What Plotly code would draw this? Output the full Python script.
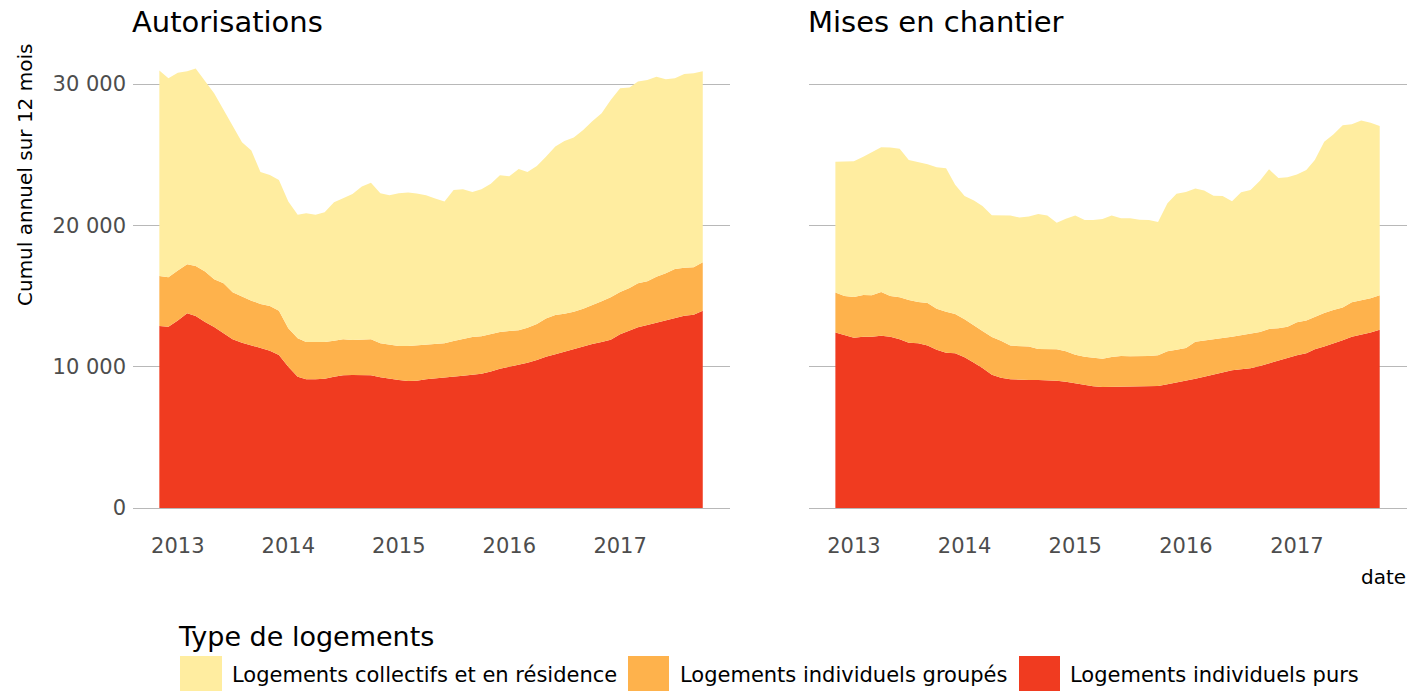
import pandas as pd
import plotly.graph_objects as go

# ---------------- data ----------------
start_month = "2012-11-01"
n_months = 60
dates = pd.date_range(start_month, periods=n_months, freq="MS")

series_names = [
    "Logements individuels purs",
    "Logements individuels groupés",
    "Logements collectifs et en résidence",
]
colors = {
    "Logements collectifs et en résidence": "#FFEDA0",
    "Logements individuels groupés": "#FEB24C",
    "Logements individuels purs": "#F03B20",
}

# Autorisations
aut_purs = [12880, 12830, 13260, 13780, 13590, 13160, 12810, 12360, 11940, 11700,
            11490, 11300, 11130, 10830, 10000, 9290, 9110, 9110, 9150, 9290,
            9390, 9410, 9410, 9390, 9250, 9130, 9060, 8990, 9010, 9110,
            9180, 9270, 9290, 9360, 9430, 9500, 9650, 9860, 10000, 10120,
            10280, 10470, 10710, 10880, 11060, 11230, 11440, 11610, 11750, 11910,
            12290, 12550, 12790, 12950, 13110, 13300, 13420, 13610, 13680, 13960]
aut_groupes = [3540, 3500, 3540, 3470, 3540, 3570, 3370, 3540, 3330, 3260,
               3180, 3140, 3170, 3130, 2720, 2720, 2640, 2640, 2600, 2550,
               2550, 2480, 2490, 2550, 2400, 2410, 2400, 2470, 2500, 2430,
               2450, 2380, 2530, 2620, 2670, 2650, 2640, 2600, 2530, 2450,
               2480, 2550, 2690, 2780, 2690, 2660, 2660, 2730, 2880, 3000,
               3000, 3020, 3110, 3090, 3260, 3310, 3490, 3390, 3350, 3430]
aut_collectifs = [14530, 14070, 14000, 13650, 13970, 13470, 13170, 12270, 11760, 10920,
                  10620, 9340, 9270, 9250, 8960, 8730, 9110, 8990, 9180, 9790,
                  9980, 10330, 10840, 11080, 10620, 10590, 10810, 10860, 10740, 10590,
                  10270, 10030, 10680, 10570, 10260, 10400, 10660, 11080, 10940, 11420,
                  11020, 11180, 11460, 11910, 12220, 12320, 12650, 13030, 13300, 13960,
                  14410, 14180, 14270, 14250, 14150, 13730, 13500, 13710, 13730, 13510]

# Mises en chantier
mec_purs = [12410, 12240, 12050, 12120, 12120, 12190, 12120, 11940, 11700, 11650,
            11490, 11200, 10990, 10950, 10660, 10280, 9910, 9430, 9220, 9110,
            9060, 9060, 9060, 9060, 9010, 8940, 8820, 8750, 8610, 8560,
            8570, 8580, 8610, 8630, 8630, 8630, 8750, 8870, 8990, 9150,
            9290, 9460, 9620, 9750, 9820, 9890, 10050, 10240, 10470, 10660,
            10810, 10950, 11230, 11420, 11630, 11870, 12120, 12260, 12410, 12620]
mec_groupes = [2830, 2760, 2880, 2950, 2930, 3100, 2880, 2970, 3020, 2930,
               3020, 2900, 2900, 2780, 2690, 2670, 2620, 2670, 2620, 2380,
               2380, 2360, 2190, 2170, 2220, 2150, 2030, 1960, 2030, 2000,
               2110, 2180, 2120, 2100, 2130, 2180, 2340, 2330, 2330, 2620,
               2550, 2480, 2410, 2370, 2400, 2420, 2410, 2430, 2250, 2170,
               2330, 2310, 2290, 2380, 2380, 2310, 2440, 2440, 2430, 2430]
mec_collectifs = [9250, 9490, 9610, 9790, 10100, 10240, 10500, 10500, 9910, 9910,
                  9810, 10010, 10150, 9150, 8730, 8800, 8840, 8610, 8850, 9200,
                  9110, 9200, 9560, 9460, 8960, 9380, 9840, 9670, 9740, 9890,
                  10020, 9740, 9770, 9670, 9620, 9430, 10470, 11040, 11040, 10830,
                  10620, 10160, 10050, 9590, 10120, 10190, 10700, 11300, 10630, 10570,
                  10450, 10660, 11110, 12120, 12410, 12900, 12590, 12710, 12410, 11980]

panel_titles = ["Autorisations", "Mises en chantier"]
y_tick_vals = [0, 10000, 20000, 30000]
y_tick_text = ["0", "10 000", "20 000", "30 000"]
x_tick_vals = ["2013-01-01", "2014-01-01", "2015-01-01", "2016-01-01", "2017-01-01"]
x_tick_text = ["2013", "2014", "2015", "2016", "2017"]
y_title = "Cumul annuel sur 12 mois"
x_title = "date"
legend_title = "Type de logements"
legend_order = ["Logements collectifs et en résidence",
                "Logements individuels groupés",
                "Logements individuels purs"]

# ---------------- layout helpers ----------------
WIDTH, HEIGHT = 1413, 691
ML, MR, MT, MB = 133, 6, 47, 161
PW = WIDTH - ML - MR
PH = HEIGHT - MT - MB
PLOT_BOTTOM = HEIGHT - MB


def px(x):
    return (x - ML) / PW


def py(y):
    return (PLOT_BOTTOM - y) / PH


FONT = "DejaVu Sans"
TICK_COLOR = "#4D4D4D"
GRID_COLOR = "#B8B8B8"

fig = go.Figure()

panels = [
    ("x", "y", {"Logements individuels purs": aut_purs,
                "Logements individuels groupés": aut_groupes,
                "Logements collectifs et en résidence": aut_collectifs}),
    ("x2", "y2", {"Logements individuels purs": mec_purs,
                  "Logements individuels groupés": mec_groupes,
                  "Logements collectifs et en résidence": mec_collectifs}),
]

for i, (xa, ya, data) in enumerate(panels):
    for name in series_names:
        fig.add_trace(go.Scatter(
            x=dates, y=data[name], name=name,
            xaxis=xa, yaxis=ya,
            mode="lines", line=dict(width=0, color=colors[name]),
            fillcolor=colors[name], stackgroup=f"s{i}",
            showlegend=False, hoverinfo="x+y+name",
        ))

# y range so that 0 and 30000 sit where they do in the reference
px_per_unit = (508 - 84) / 30000
y_min = -(PLOT_BOTTOM - 508) / px_per_unit
y_max = y_min + PH / px_per_unit

x_range = ["2012-08-06", "2017-12-30"]

xaxis_common = dict(
    type="date", range=x_range, tickvals=x_tick_vals, ticktext=x_tick_text,
    showgrid=False, zeroline=False, showline=False, ticks="",
    tickfont=dict(family=FONT, size=21, color=TICK_COLOR),
    ticklabelstandoff=1,
)
yaxis_common = dict(
    range=[y_min, y_max], tickvals=y_tick_vals, ticktext=y_tick_text,
    showgrid=True, gridcolor=GRID_COLOR, gridwidth=1, zeroline=False,
    showline=False, ticks="",
    tickfont=dict(family=FONT, size=21, color=TICK_COLOR),
)

fig.update_layout(
    width=WIDTH, height=HEIGHT,
    margin=dict(l=ML, r=MR, t=MT, b=MB, autoexpand=False),
    paper_bgcolor="white", plot_bgcolor="white",
    showlegend=False,
    xaxis=dict(domain=[0, px(730)], anchor="y", **xaxis_common),
    xaxis2=dict(domain=[px(809), 1], anchor="y2", **xaxis_common),
    yaxis=dict(domain=[0, 1], anchor="x", showticklabels=True,
               ticklabelstandoff=6, **yaxis_common),
    yaxis2=dict(domain=[0, 1], anchor="x2", showticklabels=False, **yaxis_common),
    font=dict(family=FONT, color="black"),
)

annotations = [
    dict(text=panel_titles[0], x=px(130), y=py(22), xanchor="left", yanchor="middle",
         font=dict(size=29, color="black", family=FONT)),
    dict(text=panel_titles[1], x=px(806), y=py(22), xanchor="left", yanchor="middle",
         font=dict(size=29, color="black", family=FONT)),
    dict(text=y_title, x=px(25), y=py(175), xanchor="center", yanchor="middle",
         textangle=-90, font=dict(size=20, color="black", family=FONT)),
    dict(text=x_title, x=px(1408), y=py(577), xanchor="right", yanchor="middle",
         font=dict(size=20, color="black", family=FONT)),
    dict(text=legend_title, x=px(176), y=py(636), xanchor="left", yanchor="middle",
         font=dict(size=27, color="black", family=FONT)),
]

legend_boxes = [(180, 222), (628, 669), (1019, 1060)]
legend_text_x = [230, 678, 1068]
shapes = []
for name, (x0, x1), tx in zip(legend_order, legend_boxes, legend_text_x):
    shapes.append(dict(type="rect", xref="paper", yref="paper",
                       x0=px(x0), x1=px(x1), y0=py(700), y1=py(656),
                       fillcolor=colors[name], line=dict(width=0)))
    annotations.append(dict(text=name, x=px(tx), y=py(675), xanchor="left",
                            yanchor="middle",
                            font=dict(size=21, color="black", family=FONT)))

for a in annotations:
    a.update(xref="paper", yref="paper", showarrow=False)

fig.update_layout(annotations=annotations, shapes=shapes)

fig.write_html(
    "out.html",
    config={"displayModeBar": False},
    post_script="document.body.style.margin='0';document.body.style.overflow='hidden';",
)
